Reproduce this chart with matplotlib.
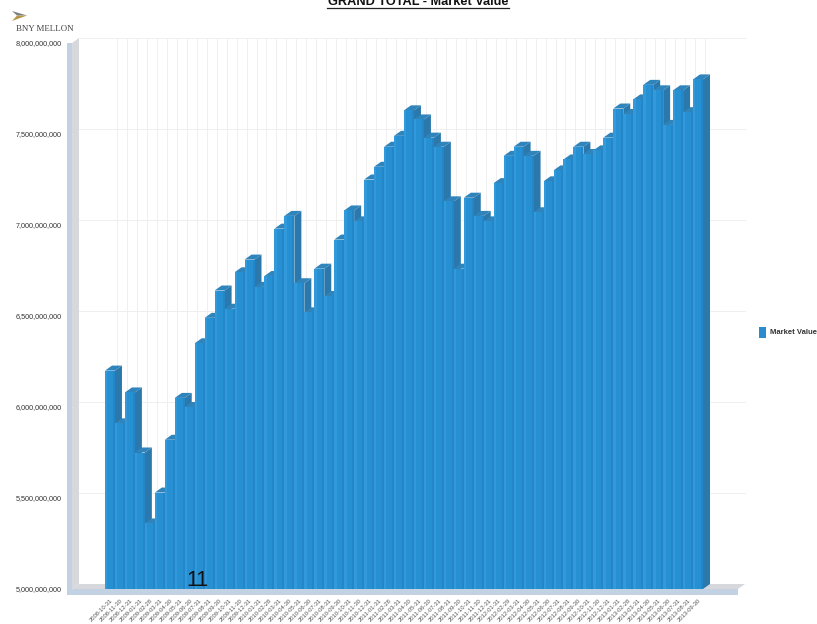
import matplotlib
matplotlib.use("Agg")
import matplotlib.pyplot as plt
from matplotlib.patches import Polygon
from matplotlib.ticker import FuncFormatter, MultipleLocator
from matplotlib.lines import Line2D

plt.rcParams['font.family'] = ['Liberation Sans', 'DejaVu Sans']

dates = [
 "2008-10-31","2008-11-30","2008-12-31","2009-01-31","2009-02-28","2009-03-31","2009-04-30","2009-05-31",
 "2009-06-30","2009-07-31","2009-08-31","2009-09-30","2009-10-31","2009-11-30","2009-12-31","2010-01-31",
 "2010-02-28","2010-03-31","2010-04-30","2010-05-31","2010-06-30","2010-07-31","2010-08-31","2010-09-30",
 "2010-10-31","2010-11-30","2010-12-31","2011-01-31","2011-02-28","2011-03-31","2011-04-30","2011-05-31",
 "2011-06-30","2011-07-31","2011-08-31","2011-09-30","2011-10-31","2011-11-30","2011-12-31","2012-01-31",
 "2012-02-29","2012-03-31","2012-04-30","2012-05-31","2012-06-30","2012-07-31","2012-08-31","2012-09-30",
 "2012-10-31","2012-11-30","2012-12-31","2013-01-31","2013-02-28","2013-03-31","2013-04-30","2013-05-31",
 "2013-06-30","2013-07-31","2013-08-31","2013-09-30"]
values_bn = [
 6.20,5.91,6.08,5.75,5.36,5.53,5.82,6.05,6.00,6.35,6.49,6.64,6.54,6.74,6.81,6.66,6.72,6.98,7.05,6.68,
 6.52,6.76,6.61,6.92,7.08,7.02,7.25,7.32,7.43,7.49,7.63,7.58,7.48,7.43,7.13,6.76,7.15,7.05,7.02,7.23,
 7.38,7.43,7.38,7.07,7.24,7.30,7.36,7.43,7.39,7.41,7.48,7.64,7.61,7.69,7.77,7.74,7.55,7.74,7.62,7.80]
values = [v * 1e9 for v in values_bn]
title = "GRAND TOTAL - Market Value"
series_name = "Market Value"

W, H = 817, 624
fig = plt.figure(figsize=(W/100, H/100), dpi=100)
L, R, T, B = 72, 738, 43, 589
ax = fig.add_axes([L/W, 1-B/H, (R-L)/W, (B-T)/H])
pitch = (703-105)/60
x_at = lambda px: (px-105)/pitch-0.5
ax.set_xlim(x_at(L), x_at(R))
ax.set_ylim(5e9, 8e9)
dx, dy = 7/pitch, 5*(3e9/(B-T))
x0, x1 = ax.get_xlim()
strip = 5/pitch
strip_y = 6*(3e9/(B-T))

for s in ax.spines.values():
    s.set_visible(False)
ax.set_axisbelow(True)

# walls
wall = '#d6d8dc'; edge = '#c3d2e3'
ax.add_patch(Polygon([(x0,5e9),(x0,8e9),(x0+dx,8e9+dy),(x0+dx,5e9+dy)], fc=wall, ec='none', clip_on=False, zorder=0.5))
ax.add_patch(Polygon([(x0,5e9),(x1,5e9),(x1+dx,5e9+dy),(x0+dx,5e9+dy)], fc=wall, ec='none', clip_on=False, zorder=0.5))
ax.add_patch(Polygon([(x0-strip,5e9-strip_y),(x0-strip,8e9),(x0,8e9),(x0,5e9)], fc=edge, ec='none', clip_on=False, zorder=0.6))
ax.add_patch(Polygon([(x0-strip,5e9-strip_y),(x1,5e9-strip_y),(x1,5e9),(x0-strip,5e9)], fc=edge, ec='none', clip_on=False, zorder=0.6))

# back gridlines
grid = '#efefef'
for yv in range(5, 9):
    for yy in (yv*1e9, (yv+0.5)*1e9):
        if yy <= 8e9 and yy > 5e9:
            ax.add_line(Line2D([x0+dx, x1+dx], [yy+dy, yy+dy], color=grid, lw=0.7, clip_on=False, zorder=0.4))
for i in range(len(values)):
    ax.add_line(Line2D([i+dx, i+dx], [5e9+dy, 8e9+dy], color=grid, lw=0.7, clip_on=False, zorder=0.4))

# bars
front = '#2690d2'; side = '#2b79ac'; top = '#2f84bb'
xs = list(range(len(values)))
for i, v in zip(xs, values):
    z = 2 + i*0.01
    ax.add_patch(Polygon([(i+.5,5e9),(i+.5+dx,5e9+dy),(i+.5+dx,v+dy),(i+.5,v)], fc=side, ec='none', zorder=z))
    ax.add_patch(Polygon([(i-.5,v),(i-.5+dx,v+dy),(i+.5+dx,v+dy),(i+.5,v)], fc=top, ec='none', zorder=z+0.001))
    ax.bar(i, v-5e9, bottom=5e9, width=1.0, color=front, linewidth=0, zorder=z+0.002)
    ax.bar(i-0.38, v-5e9, bottom=5e9, width=0.24, color='#329ada', linewidth=0, zorder=z+0.003)
    ax.bar(i+0.4, v-5e9, bottom=5e9, width=0.2, color='#2286c8', linewidth=0, zorder=z+0.003)

# axes text
ax.yaxis.set_major_locator(MultipleLocator(5e8))
ax.yaxis.set_minor_locator(MultipleLocator(2.5e8))
ax.yaxis.set_major_formatter(FuncFormatter(lambda v, p: f"{int(v):,}"))
ax.tick_params(axis='y', which='major', length=3.6, width=0.7, color='#e3e8ee', pad=3.6,
               labelsize=5.2, labelcolor='#333333')
ax.tick_params(axis='y', which='minor', length=3.6, width=0.7, color='#e3e8ee')
ax.set_xticks(xs)
ax.set_xticklabels(dates, rotation=45, ha='right', va='top', rotation_mode='anchor')
ax.tick_params(axis='x', length=3.6, width=5.0, color='#d9e5f1', pad=3.0, labelsize=4.2, labelcolor='#555555')

# title
fig.text(418/W, 1-5/H, title, ha='center', va='baseline', fontsize=9.2, fontweight='bold', color='#111111')
fig.add_artist(Line2D([327/W, 509/W], [1-7.5/H, 1-7.5/H], color='#222222', lw=0.9))

# brand
fig.text(16/W, 1-31/H, "BNY MELLON", family='Liberation Serif', fontsize=6.4, color='#444444', va='baseline', ha='left')
fig.add_artist(Polygon([(12/W,1-11/H),(27/W,1-15.5/H),(17/W,1-15.5/H)], fc='#7c7f85', ec='none', transform=fig.transFigure))
fig.add_artist(Polygon([(12/W,1-21/H),(27/W,1-15.5/H),(17/W,1-15.5/H)], fc='#b9974a', ec='none', transform=fig.transFigure))

# stray annotation
fig.text(197/W, 1-586/H, "11", ha='center', va='baseline', fontsize=15.5, color='#111111', zorder=10)

# legend
fig.add_artist(Polygon([(759/W,1-327/H),(766/W,1-327/H),(766/W,1-338/H),(759/W,1-338/H)], fc='#2a8ccc', ec='none', transform=fig.transFigure))
fig.text(770/W, 1-334.5/H, series_name, fontsize=5.5, fontweight='bold', color='#333333', va='baseline', ha='left')

fig.savefig("out.png", dpi=100)
